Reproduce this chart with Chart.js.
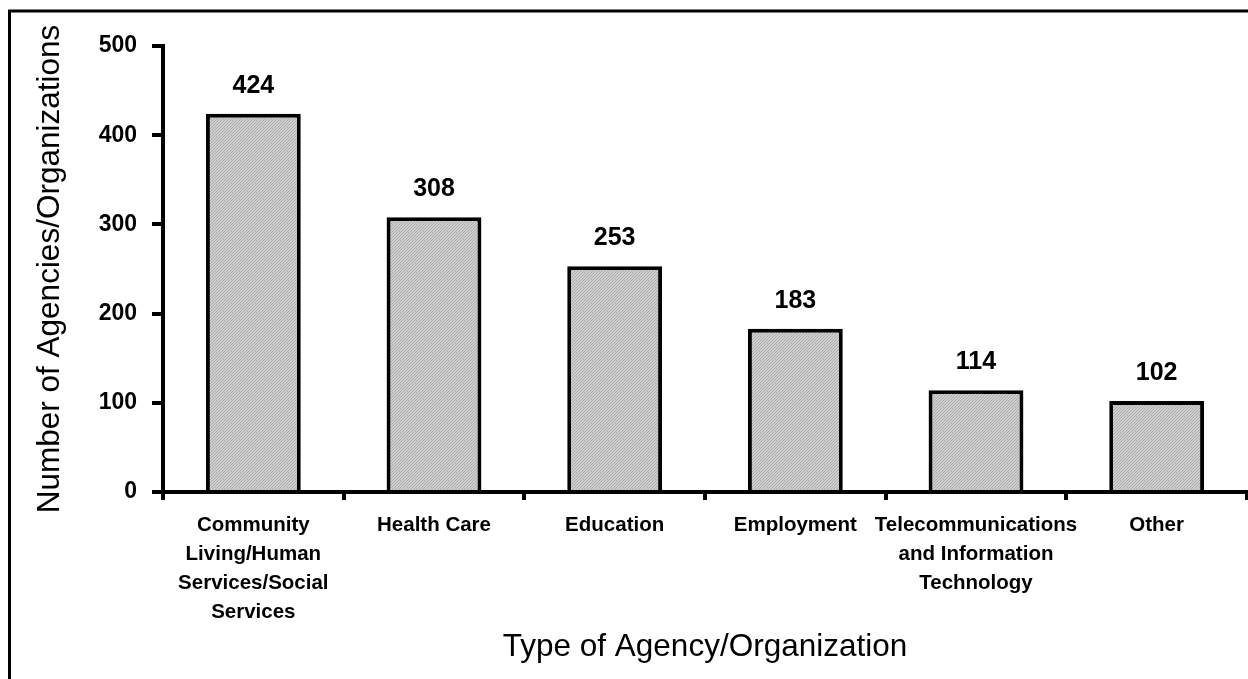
<!DOCTYPE html>
<html>
<head>
<meta charset="utf-8">
<script src="https://cdn.jsdelivr.net/npm/chart.js@4.4.0/dist/chart.umd.min.js"></script>
<style>
  html, body { margin: 0; padding: 0; background: #fff; overflow: hidden; }
  #wrap { width: 1248px; height: 679px; }
</style>
</head>
<body>
<div id="wrap"><canvas id="chart" width="1248" height="679"></canvas></div>
<script>
const categories = [
  ['Community', 'Living/Human', 'Services/Social', 'Services'],
  'Health Care',
  'Education',
  'Employment',
  ['Telecommunications', 'and Information', 'Technology'],
  'Other'
];
const counts = [424, 308, 253, 183, 114, 102];
const yTicks = [0, 100, 200, 300, 400, 500];

const FONT = "'Liberation Sans', Arial, sans-serif";

// fine grey dither like the original bar fill
function makeHatch() {
  const c = document.createElement('canvas');
  c.width = 3; c.height = 3;
  const g = c.getContext('2d');
  g.fillStyle = '#cfcfcf';
  g.fillRect(0, 0, 3, 3);
  g.fillStyle = '#ababab';
  for (let i = 0; i < 3; i++) g.fillRect(i, 2 - i, 1, 1);
  return g.createPattern(c, 'repeat');
}

/* === frame around the picture (cropped at right/bottom) === */
const framePlugin = {
  id: 'frame',
  afterDraw(chart) {
    const ctx = chart.ctx;
    ctx.save();
    ctx.strokeStyle = '#000';
    ctx.lineWidth = 3;
    ctx.beginPath();
    ctx.moveTo(9.5, 700);
    ctx.lineTo(9.5, 11);
    ctx.lineTo(1300, 11);
    ctx.stroke();
    ctx.restore();
  }
};

/* === value labels above bars === */
const valueLabels = {
  id: 'valueLabels',
  afterDatasetsDraw(chart) {
    const ctx = chart.ctx;
    const meta = chart.getDatasetMeta(0);
    ctx.save();
    ctx.font = 'bold 25px ' + FONT;
    ctx.fillStyle = '#000';
    ctx.textAlign = 'center';
    ctx.textBaseline = 'alphabetic';
    meta.data.forEach((bar, i) => {
      ctx.fillText(String(counts[i]), bar.x, bar.y - 21);
    });
    ctx.restore();
  }
};

new Chart(document.getElementById('chart'), {
  type: 'bar',
  data: {
    labels: categories,
    datasets: [{
      data: counts,
      backgroundColor: makeHatch(),
      borderColor: '#000',
      borderWidth: 4,
      borderSkipped: 'start',
      barPercentage: 0.525,
      categoryPercentage: 1
    }]
  },
  options: {
    responsive: false,
    animation: false,
    layout: { padding: { left: 10, top: 46, right: 1, bottom: 0 } },
    plugins: { legend: { display: false }, tooltip: { enabled: false } },
    scales: {
      x: {
        afterFit(s) { s.height = 187; },
        grid: { display: true, offset: true, drawOnChartArea: false, drawTicks: true, tickLength: 8, lineWidth: 4, color: '#000' },
        border: { display: true, color: '#000', width: 4 },
        ticks: {
          autoSkip: false, maxRotation: 0, minRotation: 0,
          padding: 10.5, color: '#000',
          font: { family: FONT, size: 20.5, weight: 'bold', lineHeight: 1.42 }
        },
        title: {
          display: true, text: 'Type of Agency/Organization', color: '#000',
          font: { family: FONT, size: 31.5, lineHeight: 1.2 },
          padding: { top: 0, bottom: 13 }
        }
      },
      y: {
        min: 0, max: 500,
        afterFit(s) { s.width = 153; },
        afterBuildTicks(s) { s.ticks = yTicks.map(v => ({ value: v })); },
        grid: { display: true, drawOnChartArea: false, drawTicks: true, tickLength: 11, lineWidth: 4, color: '#000' },
        border: { display: true, color: '#000', width: 4 },
        ticks: {
          padding: 15, color: '#000',
          font: { family: FONT, size: 23, weight: 'bold' }
        },
        title: {
          display: true, text: 'Number of Agencies/Organizations', color: '#000',
          font: { family: FONT, size: 31.5, lineHeight: 1.2 },
          padding: { top: 21, bottom: 0 }
        }
      }
    }
  },
  plugins: [valueLabels, framePlugin]
});
</script>
</body>
</html>
